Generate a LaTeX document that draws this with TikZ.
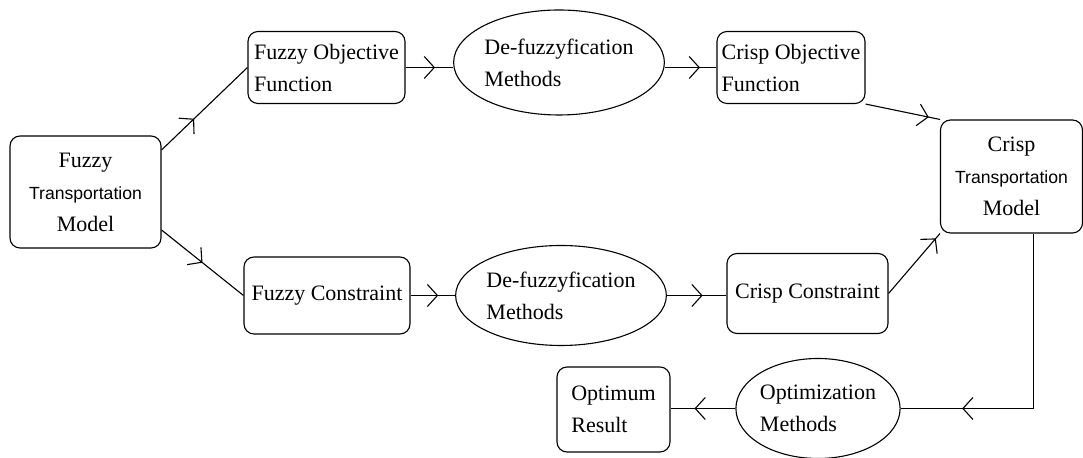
\documentclass[tikz,border=0pt]{standalone}
\usepackage{fontspec}
\setmainfont{Liberation Serif}
\newfontfamily\tsans{Liberation Sans}
\usetikzlibrary{shapes.geometric,arrows.meta,decorations.markings}

\tikzset{
  midtip/.style={postaction={decorate},
    decoration={markings,mark=at position #1 with {\arrow{Straight Barb[length=5pt,width=11pt]}}}},
  box/.style={draw,rounded corners=5pt,align=left,inner sep=1pt},
  oval/.style={draw,ellipse,align=left,inner sep=0pt},
}
\newcommand{\tword}{{\tsans\fontsize{8.8}{16}\selectfont Transportation}}

\begin{document}
\begin{tikzpicture}[x=0.5pt,y=-0.5pt,line width=0.55pt,
  every node/.style={font=\fontsize{11}{16}\selectfont}]

      \useasboundingbox (0,0) rectangle (1083,458);

      \begin{scope}[every node/.append style={box}]
        \node[minimum width=75.5pt,minimum height=56pt,align=center] (ftm) at (85.5,192) {Fuzzy\\\tword\\Model};
        \node[minimum width=78.5pt,minimum height=36pt] (fof) at (326.5,67.5) {Fuzzy Objective\\Function};
        \node[minimum width=74pt,minimum height=36pt] (cof) at (791,67.5) {Crisp Objective\\Function};
        \node[minimum width=71pt,minimum height=56.5pt,align=center] (ctm) at (1011.5,176.5) {Crisp\\\tword\\Model};
        \node[minimum width=83pt,minimum height=38.5pt] (fc) at (327,295.5) {Fuzzy Constraint};
        \node[minimum width=80.5pt,minimum height=40pt] (cc) at (807.5,293.5) {Crisp Constraint};
        \node[minimum width=56.5pt,minimum height=42.5pt] (res) at (613.5,409.5) {Optimum\\Result};
      \end{scope}

      \begin{scope}[every node/.append style={oval}]
        \node[minimum width=99pt,minimum height=52.5pt] (dfz1) at (559,62.5) {De-fuzzyfication\\Methods};
        \node[minimum width=96.5pt,minimum height=50pt] (dfz2) at (561,295.5) {De-fuzzyfication\\Methods};
        \node[minimum width=75pt,minimum height=50pt] (opt) at (818,408.5) {Optimization\\Methods};
      \end{scope}

      % upper branch
      \draw[midtip=0.38] ([yshift=21pt]ftm.east) -- (fof.west);
      \draw[midtip=0.62] (fof.east) -- (fof.east -| dfz1.west);
      \draw[midtip=0.68] (dfz1.east |- cof.west) -- (cof.west);
      \draw[midtip=0.85] (cof.south east) -- (ctm.north west);

      % lower branch
      \draw[midtip=0.5] ([yshift=-19pt]ftm.east) -- (fc.west);
      \draw[midtip=0.62] (fc.east) -- (dfz2.west);
      \draw[midtip=0.6] (dfz2.east) -- (dfz2.east -| cc.west);
      \draw[midtip=0.92] (cc.east) -- (ctm.south west);

      % result
      \draw[midtip=0.8] ([xshift=11pt]ctm.south) |- (opt.east);
      \draw[midtip=0.63] (opt.west) -- (opt.west -| res.east);

    \end{tikzpicture}
\end{document}
